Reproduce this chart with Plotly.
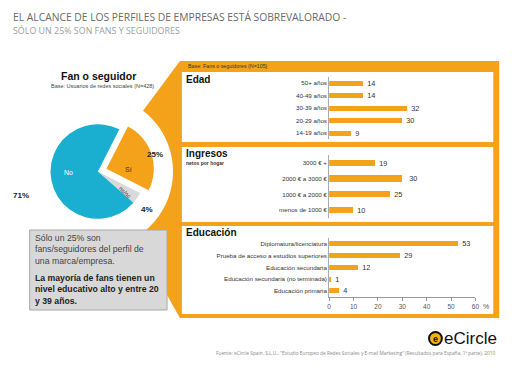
import math
import plotly.graph_objects as go

W, H = 520, 368

# ---------------- data ----------------
title_line1 = "EL ALCANCE DE LOS PERFILES DE EMPRESAS ESTÁ SOBREVALORADO -"
title_line2 = "SÓLO UN 25% SON FANS Y SEGUIDORES"

pie_labels = ["Sí", "ns/nc", "No"]
pie_values = [25, 4, 71]

edad_cats = ["50+ años", "40-49 años", "30-39 años", "20-29 años", "14-19 años"]
edad_vals = [14, 14, 32, 30, 9]

ingresos_cats = ["3000 € +", "2000 € a 3000 €", "1000 € a 2000 €", "menos de 1000 €"]
ingresos_vals = [19, 30, 25, 10]

educ_cats = ["Diplomatura/licenciatura", "Prueba de acceso a estudios superiores",
             "Educación secundaria", "Educación secundaria (no terminada)", "Educación primaria"]
educ_vals = [53, 29, 12, 1, 4]

x_ticks = [0, 10, 20, 30, 40, 50, 60]

note_text = "Sólo un 25% son<br>fans/seguidores del perfil de<br>una marca/empresa."
note_bold = "La mayoría de fans tienen un<br>nivel educativo alto y entre 20<br>y 39 años."
footer = ("Fuente: eCircle Spain, S.L.U., \"Estudio Europeo de Redes Sociales y E-mail Marketing\" "
          "(Resultados para España, 1ª parte), 2010")

# ---------------- style ----------------
ORANGE = "#F5A21B"
BLUE = "#1AAFD0"
LGRAY = "#D9D9D9"
ARIAL = "Liberation Sans, Arial, sans-serif"
TFONT = "Open Sans, sans-serif"


def px(x):
    return x / W


def py(y):
    return 1 - y / H


fig = go.Figure()

# pie
pc_x, pc_y, pull = 97, 171.5, 0.19
half = 57
fig.add_trace(go.Pie(
    labels=pie_labels, values=pie_values, sort=False, direction="clockwise", rotation=27,
    pull=[pull, 0, 0], marker=dict(colors=[ORANGE, LGRAY, BLUE], line=dict(width=0)),
    textinfo="none", hoverinfo="skip", showlegend=False,
    domain=dict(x=[px(pc_x - half), px(pc_x + half)], y=[py(pc_y + half), py(pc_y - half)]),
))

# bar panels
panels = [
    (edad_cats, edad_vals, (76.75, 139.25), 0.42, "2"),
    (ingresos_cats, ingresos_vals, (155.2, 217.8), 0.4, "3"),
    (educ_cats, educ_vals, (238.1, 296.9), 0.42, "4"),
]
xdom = [px(331), px(479)]
NB = "\u00a0"
for cats, vals, (ytop, ybot), bw, k in panels:
    fig.add_trace(go.Bar(
        y=cats, x=vals, orientation="h", width=bw, marker=dict(color=ORANGE, line=dict(width=0)),
        text=[NB * 2 + str(v) for v in vals], textposition="outside", cliponaxis=False,
        constraintext="none",
        textfont=dict(size=7.3, color="#333", family=ARIAL), hoverinfo="skip", showlegend=False,
        xaxis="x" + k, yaxis="y" + k,
    ))
    last = k == "4"
    fig.update_layout(**{
        "xaxis" + k: dict(domain=xdom, range=[0, 60], anchor="y" + k, showgrid=False, zeroline=False,
                          showline=last, linecolor="#999", linewidth=1,
                          ticks="outside" if last else "", ticklen=3, tickcolor="#999",
                          showticklabels=last, tickvals=x_ticks,
                          tickfont=dict(size=6.5, color="#555", family=ARIAL)),
        "yaxis" + k: dict(domain=[py(ybot), py(ytop)], range=[len(cats) - 0.5, -0.5], anchor="x" + k,
                          showgrid=False, zeroline=False, showline=True, linecolor="#AAA", linewidth=1,
                          ticks="", tickfont=dict(size=6.2, color="#333", family=ARIAL)),
    })

# ---------------- shapes ----------------
shapes = []
# orange wedge + panel
ar = 76
a0 = math.atan2(pc_y - 61, 180 - pc_x)
a1 = math.atan2(pc_y - 318, 180 - pc_x)
pts = [(180, 61), (503, 61), (503, 318), (180, 318)]
n = 40
for i in range(n + 1):
    a = a1 + (a0 - a1) * i / n
    pts.append((pc_x + ar * math.cos(a), pc_y - ar * math.sin(a)))
path = "M " + " L ".join(f"{px(x):.5f},{py(y):.5f}" for x, y in pts) + " Z"
shapes.append(dict(type="path", path=path, xref="paper", yref="paper", fillcolor=ORANGE,
                   line=dict(width=0), layer="below"))
for (x0, y0, x1, y1) in [(182, 72, 497, 142), (182, 147, 497, 222), (182, 226, 497, 314)]:
    shapes.append(dict(type="rect", xref="paper", yref="paper", x0=px(x0), x1=px(x1), y0=py(y1), y1=py(y0),
                       fillcolor="white", line=dict(width=0), layer="below"))
# gray note box
shapes.append(dict(type="rect", xref="paper", yref="paper", x0=px(28), x1=px(167), y0=py(310), y1=py(230),
                   fillcolor="#D8D8D8", line=dict(width=1, color="#A8A8A8"), layer="below"))
# logo circle
shapes.append(dict(type="circle", xref="paper", yref="paper", x0=px(432), x1=px(445), y0=py(345), y1=py(332),
                   fillcolor="#F2B21A", line=dict(width=2, color="#111"), layer="above"))

# ---------------- annotations ----------------
anns = []


def ann(x, y, text, size, color="#333", family=ARIAL, xanchor="left", yanchor="middle", **kw):
    anns.append(dict(x=px(x), y=py(y), xref="paper", yref="paper", text=text, showarrow=False,
                     xanchor=xanchor, yanchor=yanchor, font=dict(size=size, color=color, family=family), **kw))


ann(9, 17, title_line1, 10.3, "#6A6A6A", TFONT)
ann(9, 31, title_line2, 8.9, "#A0A0A0", TFONT)

ann(97.5, 76, "<b>Fan o seguidor</b>", 10.5, "#111", xanchor="center")
ann(102, 86.5, "Base: Usuarios de redes sociales (N=428)", 5.5, "#444", xanchor="center")

# pie labels
ann(67, 172, pie_labels[2], 7, "white", xanchor="center")
ann(128, 169, pie_labels[0], 7, "#333", xanchor="center")
ann(124, 192, pie_labels[1], 5.8, "#333", xanchor="center", textangle=43)
ann(19, 195, f"<b>{pie_values[2]}%</b>", 8, "#222", xanchor="center")
ann(155, 154, f"<b>{pie_values[0]}%</b>", 8, "#222", xanchor="center")
ann(147, 209, f"<b>{pie_values[1]}%</b>", 8, "#222", xanchor="center")

# panel texts
ann(186, 66, "Base: Fans o seguidores (N=105)", 5.3, "#333")
ann(184, 80, "<b>Edad</b>", 10, "#111")
ann(184, 153, "<b>Ingresos</b>", 10, "#111")
ann(184, 162.5, "<b>netos por hogar</b>", 5, "#333")
ann(184, 232, "<b>Educación</b>", 10, "#111")
ann(485, 306, "%", 7, "#555")

# note box
ann(31, 231, note_text, 8.7, "#444", yanchor="top", align="left")
ann(31, 271, "<b>" + note_bold + "</b>", 8.7, "#222", yanchor="top", align="left")

# logo + footer
ann(438.5, 338.5, "<b>e</b>", 9, "#111", xanchor="center")
ann(445, 338.5, "eCircle", 17, "#111")
ann(501, 353, footer, 4.8, "#888", TFONT, xanchor="right")

fig.update_layout(width=W, height=H, margin=dict(l=0, r=0, t=0, b=0), paper_bgcolor="white",
                  plot_bgcolor="rgba(0,0,0,0)", shapes=shapes, annotations=anns, bargap=0,
                  font=dict(family=ARIAL))

fig.write_html("out.html", config={"displayModeBar": False},
               post_script="document.body.style.margin='0';document.body.style.padding='0';")
